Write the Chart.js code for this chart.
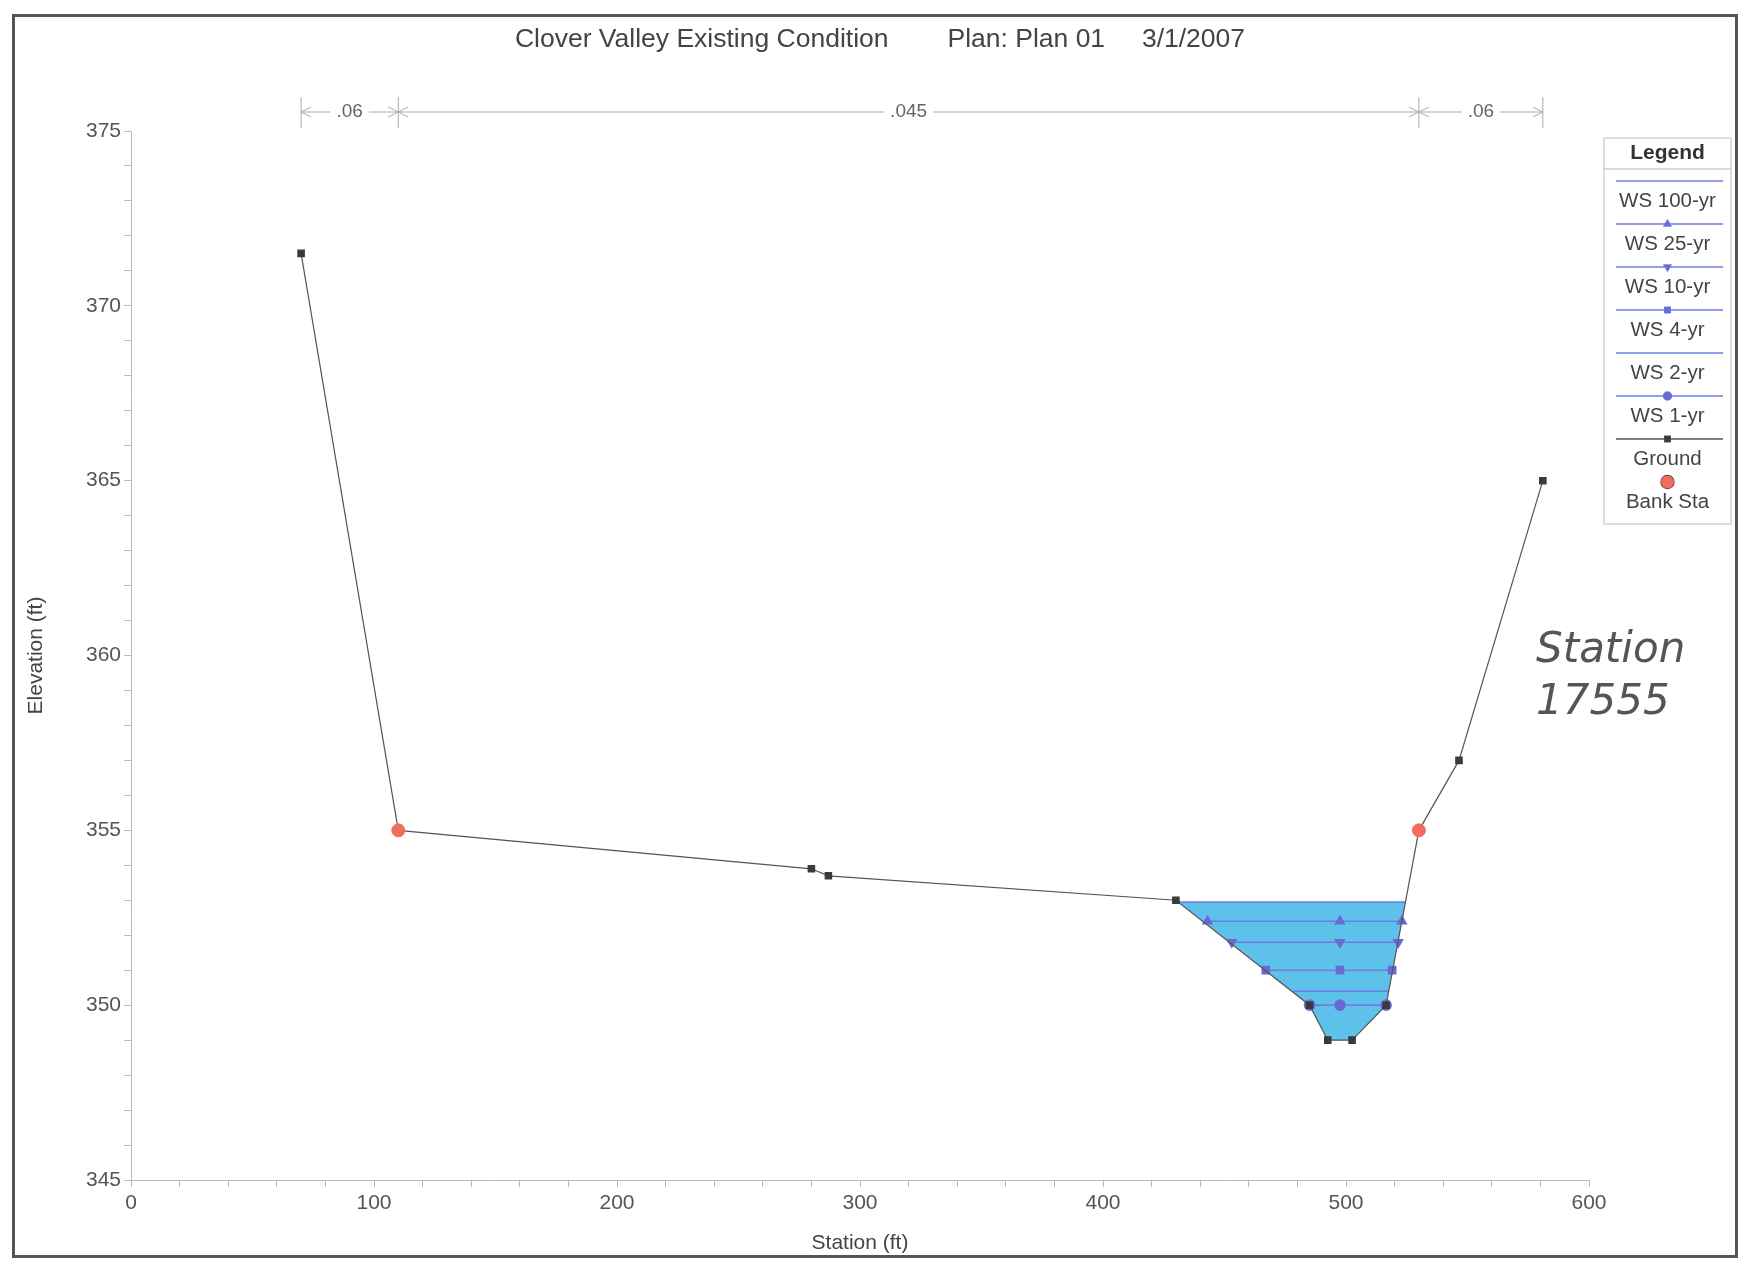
<!DOCTYPE html>
<html>
<head>
<meta charset="utf-8">
<title>Clover Valley Existing Condition</title>
<script src="https://cdn.jsdelivr.net/npm/chart.js@4.4.0/dist/chart.umd.min.js"></script>
<style>
    body { margin: 0; background: #fff; }
    #wrap { position: relative; width: 1745px; height: 1271px; }
    #marco { position: absolute; left: 12px; top: 14px; width: 1726px; height: 1244px; border: 3px solid #555; box-sizing: border-box; }
    #nota { position: absolute; left: 1536px; top: 622px; font-family: 'DejaVu Sans'; font-style: italic; font-size: 42px; color: #555; line-height: 52px; }
</style>
</head>
<body>
<div id="wrap">
    <canvas id="graficoSeccion"></canvas>
    <div id="marco"></div>
    <div id="nota">Station<br>17555</div>
</div>
<script>
// terreno
var estacionTerreno = [70, 110, 280, 287, 430, 485, 492.5, 502.5, 516.5, 530, 546.5, 581];
var cotaTerreno = [371.5, 355.0, 353.9, 353.7, 353.0, 350.0, 349.0, 349.0, 350.0, 355.0, 357.0, 365.0];

// bancos
var estacionBanco = [110, 530];
var cotaBanco = [355.0, 355.0];

// niveles de agua
var nombresWS = ['WS 100-yr', 'WS 25-yr', 'WS 10-yr', 'WS 4-yr', 'WS 2-yr', 'WS 1-yr'];
var cotaWS = [352.95, 352.4, 351.8, 351.0, 350.4, 350.0];
var wsIzq = [431, 443, 453, 467, 478, 485];
var wsCentro = 497.5;
var wsDer = [524.5, 523, 521.5, 519, 517.5, 516.5];
var marcaWS = [false, 'triangle', 'triangle', 'rect', false, 'circle'];
var giroWS = [0, 0, 180, 0, 0, 0];

// relleno de agua (cauce bajo el WS 100-yr)
var estacionAgua = [431, 485, 492.5, 502.5, 516.5, 524.5];
var cotaAgua = [352.95, 350.0, 349.0, 349.0, 350.0, 352.95];

// n de Manning
var estacionN = [70, 110, 530, 581];
var valoresN = ['.06', '.045', '.06'];

var titulo = 'Clover Valley Existing Condition        Plan: Plan 01     3/1/2007';
var fuente = 'Liberation Sans';

function puntos(xs, ys) {
    return xs.map(function (x, i) { return { x: x, y: ys[i] }; });
}

var colorWS = '#6c7ee2';
var colorMarca = '#6a6ad4';

var datasets = [];

datasets.push({
    label: 'agua',
    data: puntos(estacionAgua, cotaAgua),
    showLine: true,
    borderWidth: 0,
    pointRadius: 0,
    backgroundColor: '#5ec1ea',
    fill: { target: { value: cotaWS[0] } },
    order: 10
});

nombresWS.forEach(function (nombre, i) {
    datasets.push({
        label: nombre,
        data: [
            { x: wsIzq[i], y: cotaWS[i] },
            { x: wsCentro, y: cotaWS[i] },
            { x: wsDer[i], y: cotaWS[i] }
        ],
        showLine: true,
        borderColor: colorWS,
        borderWidth: 1.6,
        pointStyle: marcaWS[i] || 'circle',
        pointRotation: giroWS[i],
        pointRadius: marcaWS[i] ? 5 : 0,
        pointBackgroundColor: colorMarca,
        pointBorderColor: colorMarca,
        fill: false,
        order: 5
    });
});

datasets.push({
    label: 'Ground',
    data: puntos(estacionTerreno, cotaTerreno),
    showLine: true,
    borderColor: '#555',
    borderWidth: 1.2,
    pointStyle: 'rect',
    pointRadius: 4.5,
    pointBackgroundColor: '#3a3a3a',
    pointBorderColor: '#3a3a3a',
    fill: false,
    order: 2
});

datasets.push({
    label: 'Bank Sta',
    data: puntos(estacionBanco, cotaBanco),
    showLine: false,
    pointStyle: 'circle',
    pointRadius: 6.5,
    pointBackgroundColor: '#f46c5c',
    pointBorderColor: '#f46c5c',
    order: 1
});

// titulo, n de Manning y leyenda dibujados a mano
const extras = {
    id: 'extras',
    afterDraw: function (chart) {
        const ctx = chart.ctx;
        const area = chart.chartArea;
        const sx = chart.scales.x;
        ctx.save();

        // titulo
        ctx.fillStyle = '#444';
        ctx.font = '26.5px ' + fuente;
        ctx.textAlign = 'center';
        ctx.textBaseline = 'middle';
        ctx.fillText(titulo, 880, 40);

        // n de Manning
        const yl = area.top - 19;
        ctx.strokeStyle = '#aaa';
        ctx.lineWidth = 1;
        ctx.font = '19px ' + fuente;
        ctx.fillStyle = '#666';
        estacionN.forEach(function (e) {
            const px = sx.getPixelForValue(e);
            ctx.beginPath();
            ctx.moveTo(px, area.top - 34);
            ctx.lineTo(px, area.top - 3);
            ctx.stroke();
        });
        for (let i = 0; i < valoresN.length; i++) {
            const a = sx.getPixelForValue(estacionN[i]);
            const b = sx.getPixelForValue(estacionN[i + 1]);
            const m = (a + b) / 2;
            const w = ctx.measureText(valoresN[i]).width / 2 + 6;
            ctx.beginPath();
            ctx.moveTo(a, yl); ctx.lineTo(m - w, yl);
            ctx.moveTo(m + w, yl); ctx.lineTo(b, yl);
            // flechas
            ctx.moveTo(a + 10, yl - 5); ctx.lineTo(a, yl); ctx.lineTo(a + 10, yl + 5);
            ctx.moveTo(b - 10, yl - 5); ctx.lineTo(b, yl); ctx.lineTo(b - 10, yl + 5);
            ctx.stroke();
            ctx.fillText(valoresN[i], m, yl);
        }

        // leyenda
        const lx = 1604, ly = 138, lw = 127, lh = 386;
        const cx = lx + lw / 2;
        ctx.strokeStyle = '#bbb';
        ctx.strokeRect(lx, ly, lw, lh);
        ctx.beginPath();
        ctx.moveTo(lx, ly + 31); ctx.lineTo(lx + lw, ly + 31);
        ctx.stroke();
        ctx.fillStyle = '#333';
        ctx.font = 'bold 21px ' + fuente;
        ctx.fillText('Legend', cx, ly + 15);

        const items = datasets.filter(function (d) { return d.label !== 'agua'; });
        items.forEach(function (d, i) {
            const y = 181 + i * 43;
            if (d.showLine) {
                ctx.strokeStyle = d.borderColor;
                ctx.lineWidth = 1.3;
                ctx.beginPath();
                ctx.moveTo(lx + 12, y); ctx.lineTo(lx + lw - 8, y);
                ctx.stroke();
            }
            if (d.pointRadius > 0) {
                Chart.helpers.drawPoint(ctx, {
                    pointStyle: d.pointStyle,
                    rotation: d.pointRotation || 0,
                    radius: d.label === 'Bank Sta' ? 6.5 : 4,
                    borderWidth: 1
                }, cx, y);
                ctx.fillStyle = d.pointBackgroundColor;
                ctx.strokeStyle = d.pointBorderColor;
                ctx.fill();
            }
            ctx.fillStyle = '#444';
            ctx.font = '20.5px ' + fuente;
            ctx.fillText(d.label, cx, y + 20);
        });
        ctx.restore();
    }
};

const config_graficoSeccion = {
    type: 'scatter',
    data: { datasets: datasets },
    options: {
        responsive: true,
        maintainAspectRatio: false,
        animation: false,
        layout: {
            padding: { top: 131, right: 156, left: 0, bottom: 0 }
        },
        scales: {
            x: {
                type: 'linear',
                min: 0,
                max: 600,
                afterFit: function (s) { s.height = 91; },
                border: { color: '#bbb' },
                grid: { drawOnChartArea: false, tickLength: 7, tickColor: '#bbb' },
                ticks: {
                    stepSize: 20,
                    autoSkip: false,
                    maxRotation: 0,
                    padding: 4,
                    color: '#555',
                    font: { size: 21, family: fuente },
                    callback: function (v) { return v % 100 === 0 ? v : ''; }
                },
                title: {
                    display: true,
                    text: 'Station (ft)',
                    color: '#444',
                    padding: { top: 0, bottom: 15 },
                    font: { size: 21, family: fuente }
                }
            },
            y: {
                type: 'linear',
                min: 345,
                max: 375,
                afterFit: function (s) { s.width = 131; },
                border: { color: '#bbb' },
                grid: { drawOnChartArea: false, tickLength: 7, tickColor: '#bbb' },
                ticks: {
                    stepSize: 1,
                    autoSkip: false,
                    padding: 3,
                    color: '#555',
                    font: { size: 21, family: fuente },
                    callback: function (v) { return v % 5 === 0 ? v : ''; }
                },
                title: {
                    display: true,
                    text: 'Elevation (ft)',
                    color: '#444',
                    padding: { top: 24, bottom: 0 },
                    font: { size: 21, family: fuente }
                }
            }
        },
        plugins: {
            legend: { display: false },
            title: { display: false },
            tooltip: { enabled: false }
        }
    },
    plugins: [extras]
};

const graficoSeccion = new Chart(document.getElementById('graficoSeccion'), config_graficoSeccion);
</script>
</body>
</html>
